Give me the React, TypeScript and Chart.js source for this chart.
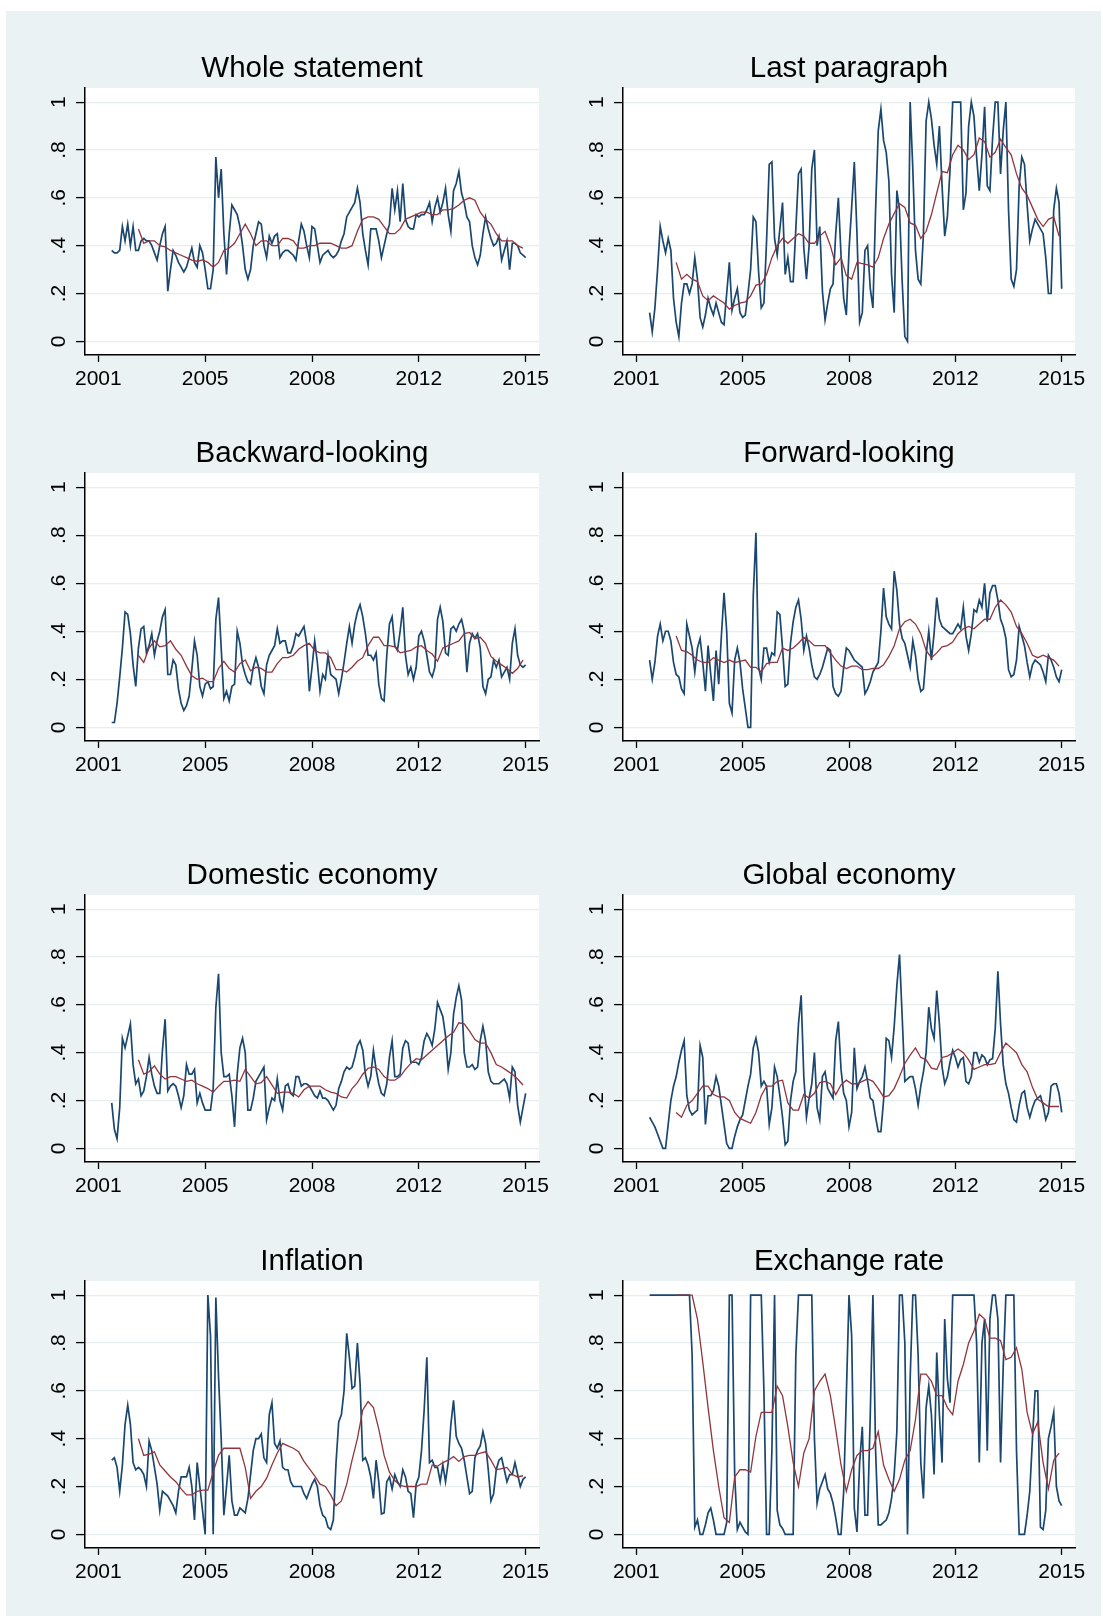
import React, { useEffect, useRef } from 'react';
import { Chart, registerables } from 'chart.js';

Chart.register(...registerables);

// ---------- axis definitions ----------
const yearLabels = ['2001', '2005', '2008', '2012', '2015'];
const yearTickPositions = [0, 40, 80, 120, 160];
const yTickValues = [0, 0.2, 0.4, 0.6, 0.8, 1];
const rawStart = 5; // observation index of first raw value
const maStart = 15; // observation index of first moving-average value
const maStep = 2;

// ---------- data (raw share, moving average) ----------
const wholeStatement = [
  .38, .37, .37, .38, .48, .42, .49, .40, .48, .38,
  .38, .42, .43, .42, .42, .40, .37, .34, .40, .45,
  .48, .21, .30, .38, .36, .33, .31, .29, .31, .35,
  .39, .33, .31, .40, .37, .30, .22, .22, .30, .77,
  .60, .72, .45, .28, .45, .57, .55, .53, .48, .40,
  .30, .26, .30, .40, .45, .50, .49, .40, .35, .44,
  .41, .44, .45, .35, .37, .38, .38, .37, .36, .34,
  .42, .49, .46, .40, .35, .48, .47, .40, .33, .36,
  .37, .38, .36, .35, .36, .38, .42, .45, .52, .54,
  .56, .58, .64, .58, .45, .38, .32, .47, .47, .47,
  .42, .35, .40, .45, .49, .64, .55, .63, .50, .66,
  .51, .48, .47, .47, .53, .52, .53, .53, .55, .58,
  .50, .56, .60, .54, .58, .64, .53, .46, .63, .66,
  .71, .62, .58, .52, .50, .40, .35, .32, .36, .45,
  .52, .47, .43, .40, .41, .44, .34, .38, .42, .30,
  .41, .41, .40, .37, .36, .35,
];
const wholeStatementMA = [
  .47, .41, .42, .42, .40, .395, .38, .37, .36, .35,
  .34, .335, .34, .33, .31, .33, .38, .39, .41, .45,
  .49, .45, .40, .42, .42, .40, .40, .43, .43, .42,
  .39, .39, .40, .40, .41, .41, .41, .40, .39, .39,
  .40, .46, .51, .52, .52, .51, .48, .45, .45, .47,
  .51, .52, .53, .54, .54, .53, .53, .55, .55, .555,
  .57, .59, .60, .59, .54, .51, .49, .45, .42, .42,
  .42, .40, .39,
];

const lastParagraph = [
  .12, .04, .14, .30, .48, .42, .37, .43, .38, .18,
  .08, .02, .16, .24, .24, .20, .24, .35, .26, .10,
  .06, .11, .18, .14, .11, .16, .12, .08, .07, .20,
  .33, .13, .18, .22, .12, .10, .11, .20, .30, .52,
  .50, .29, .14, .16, .42, .74, .75, .43, .36, .47,
  .58, .28, .35, .25, .25, .47, .70, .72, .39, .26,
  .40, .72, .80, .40, .48, .21, .09, .16, .22, .24,
  .45, .60, .36, .18, .11, .38, .56, .75, .45, .08,
  .12, .38, .40, .22, .14, .55, .88, .97, .84, .79,
  .67, .28, .12, .63, .55, .25, .02, .00, 1.0, .72,
  .38, .26, .24, .45, .92, 1.0, .93, .82, .74, .90,
  .65, .44, .52, .72, 1.0, 1.0, 1.0, 1.0, .55, .62,
  .90, 1.0, .94, .77, .63, .78, .98, .65, .63, .85,
  1.0, 1.0, .70, .88, 1.0, .55, .26, .23, .30, .65,
  .77, .74, .57, .42, .47, .51, .49, .47, .45, .35,
  .20, .20, .55, .64, .58, .22,
];
const lastParagraphMA = [
  .33, .26, .28, .26, .25, .19, .17, .19, .175, .16,
  .135, .15, .16, .165, .19, .235, .24, .28, .35, .40,
  .43, .41, .43, .45, .44, .41, .41, .44, .46, .40,
  .32, .35, .275, .26, .33, .325, .32, .31, .35, .43,
  .49, .535, .575, .56, .495, .485, .43, .46, .53, .62,
  .71, .705, .78, .82, .80, .76, .78, .85, .835, .77,
  .79, .845, .81, .78, .70, .64, .61, .56, .51, .48,
  .51, .52, .44,
];

const backwardLooking = [
  .02, .02, .10, .21, .33, .48, .47, .39, .26, .17,
  .33, .41, .42, .31, .34, .39, .30, .36, .40, .46,
  .49, .22, .22, .28, .26, .16, .10, .07, .09, .13,
  .24, .36, .30, .17, .13, .18, .19, .16, .17, .45,
  .54, .33, .12, .15, .11, .17, .18, .40, .35, .26,
  .22, .19, .18, .25, .29, .25, .17, .14, .26, .30,
  .32, .34, .41, .35, .36, .36, .31, .31, .34, .39,
  .38, .40, .42, .35, .15, .25, .36, .27, .15, .22,
  .20, .30, .22, .21, .20, .14, .20, .27, .35, .42,
  .35, .43, .48, .51, .46, .39, .30, .30, .28, .31,
  .18, .12, .11, .30, .43, .46, .34, .32, .40, .50,
  .30, .22, .25, .20, .25, .38, .40, .36, .30, .23,
  .21, .25, .45, .50, .44, .31, .30, .41, .42, .40,
  .43, .45, .40, .23, .35, .39, .37, .39, .33, .17,
  .14, .20, .21, .28, .25, .28, .21, .23, .25, .20,
  .35, .41, .30, .26, .25, .26,
];
const backwardLookingMA = [
  .30, .27, .33, .36, .335, .34, .36, .325, .30, .255,
  .215, .20, .205, .19, .19, .245, .275, .245, .23, .265,
  .28, .235, .25, .245, .23, .23, .265, .29, .29, .30,
  .325, .34, .35, .32, .31, .31, .29, .24, .24, .23,
  .25, .275, .29, .34, .375, .375, .34, .34, .335, .31,
  .315, .32, .335, .34, .32, .305, .275, .33, .34, .35,
  .36, .39, .395, .37, .375, .35, .295, .275, .26, .245,
  .225, .245, .28,
];

const forwardLooking = [
  .28, .20, .27, .38, .43, .36, .40, .40, .36, .27,
  .22, .21, .16, .14, .43, .38, .33, .23, .33, .37,
  .27, .15, .34, .22, .11, .32, .18, .38, .56, .40,
  .10, .06, .28, .33, .27, .16, .08, .00, .00, .55,
  .81, .25, .20, .33, .33, .27, .31, .30, .48, .47,
  .33, .17, .18, .35, .44, .50, .53, .45, .32, .38,
  .33, .26, .21, .20, .22, .25, .29, .33, .32, .17,
  .14, .13, .15, .25, .33, .32, .30, .28, .27, .26,
  .25, .14, .16, .19, .23, .25, .27, .40, .58, .46,
  .43, .41, .65, .57, .43, .37, .35, .30, .25, .36,
  .30, .20, .15, .16, .30, .40, .28, .39, .54, .45,
  .42, .41, .40, .39, .39, .41, .43, .41, .50, .38,
  .32, .39, .49, .48, .53, .50, .60, .44, .56, .59,
  .59, .53, .45, .42, .37, .24, .21, .22, .28, .42,
  .38, .34, .27, .21, .26, .28, .27, .26, .23, .19,
  .30, .28, .25, .21, .19, .24,
];
const forwardLookingMA = [
  .38, .32, .315, .30, .28, .27, .27, .29, .28, .27,
  .28, .27, .275, .28, .25, .25, .23, .265, .27, .27,
  .33, .32, .33, .35, .375, .36, .34, .34, .34, .31,
  .28, .255, .245, .255, .255, .24, .24, .245, .245, .26,
  .295, .34, .41, .44, .45, .43, .39, .32, .29, .31,
  .335, .34, .355, .39, .41, .42, .41, .43, .45, .45,
  .50, .53, .51, .48, .42, .39, .35, .30, .29, .30,
  .29, .28, .255,
];

const domesticEconomy = [
  .19, .08, .04, .17, .46, .42, .47, .52, .35, .27,
  .29, .22, .24, .30, .38, .31, .26, .23, .23, .41,
  .54, .24, .26, .27, .26, .22, .17, .22, .35, .31,
  .31, .33, .19, .23, .19, .16, .16, .16, .25, .59,
  .73, .40, .30, .30, .31, .22, .09, .31, .42, .46,
  .40, .16, .16, .21, .28, .30, .32, .34, .12, .17,
  .21, .20, .29, .20, .16, .26, .27, .23, .22, .30,
  .30, .26, .27, .27, .26, .24, .22, .21, .24, .21,
  .21, .20, .18, .16, .18, .25, .28, .32, .34, .33,
  .34, .38, .43, .45, .41, .31, .26, .30, .41, .33,
  .27, .23, .22, .27, .38, .45, .30, .30, .31, .42,
  .45, .44, .36, .36, .36, .35, .38, .45, .48, .46,
  .43, .50, .61, .58, .55, .47, .33, .40, .56, .63,
  .68, .62, .40, .34, .34, .35, .33, .34, .45, .51,
  .45, .32, .28, .27, .27, .27, .28, .29, .27, .21,
  .34, .32, .18, .11, .17, .23,
];
const domesticEconomyMA = [
  .37, .31, .32, .345, .31, .29, .30, .30, .29, .28,
  .285, .27, .26, .25, .235, .26, .28, .28, .285, .28,
  .33, .30, .27, .275, .30, .265, .23, .235, .235, .23,
  .215, .245, .26, .26, .26, .245, .235, .23, .215, .21,
  .25, .275, .31, .335, .34, .33, .30, .285, .285, .30,
  .33, .355, .375, .37, .39, .41, .43, .45, .47, .485,
  .525, .52, .49, .455, .44, .44, .40, .35, .34, .325,
  .31, .29, .265,
];

const globalEconomy = [
  .13, .11, .09, .06, .03, .00, .00, .10, .20, .26,
  .30, .36, .41, .45, .22, .16, .14, .15, .16, .43,
  .38, .10, .22, .22, .24, .30, .26, .18, .10, .02,
  .00, .00, .05, .09, .12, .14, .20, .26, .31, .42,
  .46, .40, .26, .28, .26, .10, .17, .34, .30, .22,
  .13, .015, .03, .20, .28, .32, .52, .64, .30, .13,
  .21, .27, .40, .17, .12, .30, .32, .25, .23, .21,
  .45, .53, .33, .23, .20, .09, .15, .42, .25, .28,
  .30, .34, .28, .21, .20, .13, .07, .07, .20, .46,
  .45, .38, .51, .68, .81, .55, .28, .29, .30, .30,
  .25, .18, .26, .32, .40, .59, .50, .46, .66, .52,
  .34, .27, .30, .36, .41, .38, .34, .37, .38, .28,
  .27, .30, .40, .40, .36, .39, .38, .35, .37, .375,
  .50, .74, .52, .35, .27, .23, .17, .12, .11, .18,
  .23, .24, .17, .13, .17, .20, .21, .22, .18, .12,
  .15, .26, .27, .27, .23, .15,
];
const globalEconomyMA = [
  .15, .13, .18, .20, .23, .26, .26, .225, .215, .215,
  .20, .15, .125, .115, .105, .15, .22, .26, .26, .28,
  .285, .19, .16, .16, .225, .21, .23, .275, .28, .27,
  .225, .265, .285, .27, .27, .28, .29, .28, .25, .215,
  .22, .25, .30, .355, .39, .42, .38, .37, .335, .33,
  .38, .385, .40, .415, .40, .37, .33, .34, .35, .35,
  .355, .40, .44, .42, .40, .35, .32, .255, .205, .19,
  .175, .175, .175,
];

const inflation = [
  .31, .32, .28, .18, .29, .46, .54, .46, .30, .27,
  .28, .27, .25, .20, .39, .35, .28, .21, .10, .18,
  .17, .16, .14, .12, .09, .18, .24, .24, .24, .28,
  .20, .06, .30, .20, .10, .00, 1.0, .83, .00, .99,
  .66, .40, .08, .20, .33, .14, .08, .08, .11, .10,
  .09, .15, .25, .35, .40, .40, .42, .32, .30, .50,
  .55, .38, .36, .39, .28, .27, .27, .22, .20, .20,
  .20, .20, .17, .15, .18, .21, .23, .20, .12, .08,
  .07, .03, .02, .06, .30, .47, .50, .60, .84, .74,
  .61, .62, .80, .63, .31, .32, .29, .24, .15, .31,
  .22, .085, .09, .22, .24, .19, .25, .22, .20, .27,
  .24, .18, .17, .07, .21, .24, .35, .52, .74, .30,
  .31, .28, .28, .22, .29, .22, .30, .46, .56, .41,
  .38, .36, .31, .24, .17, .18, .32, .35, .37, .43,
  .38, .27, .14, .17, .27, .31, .32, .27, .22, .25,
  .25, .30, .25, .20, .23, .24,
];
const inflationMA = [
  .40, .33, .335, .345, .29, .265, .24, .22, .19, .165,
  .165, .18, .185, .185, .26, .33, .36, .36, .36, .36,
  .28, .15, .18, .20, .235, .29, .34, .38, .37, .36,
  .345, .305, .275, .245, .21, .20, .165, .12, .14, .21,
  .31, .40, .52, .555, .53, .44, .33, .26, .225, .205,
  .20, .20, .20, .21, .21, .29, .285, .30, .31, .325,
  .305, .325, .33, .33, .34, .345, .31, .27, .275, .28,
  .25, .24, .245,
];

const exchangeRate = [
  1, 1, 1, 1, 1, 1, 1, 1, 1, 1,
  1, 1, 1, 1, 1, 1, .75, .03, .06, 0,
  0, .04, .09, .11, .06, 0, 0, 0, 0, .05,
  1, 1, .25, .02, .05, .03, .01, 0, 1, 1,
  1, 1, 1, .6, 0, 0, .35, 1, .1, .04,
  .025, 0, 0, 0, 0, .75, 1, 1, 1, 1,
  1, 1, .4, .13, .19, .22, .25, .19, .17, .13,
  .07, 0, 0, .18, .58, 1, .83, .11, .01, .3,
  .45, .08, .08, .5, 1, .35, .04, .04, .05, .06,
  .09, .15, .25, .43, 1, 1, .8, 0, .65, 1,
  1, .75, .3, .15, .53, .62, .5, .25, .76, .5,
  .3, .9, .65, .55, 1, 1, 1, 1, 1, 1,
  1, 1, 1, .8, .3, .8, .9, .35, .9, 1,
  1, .9, .3, .7, 1, 1, 1, 1, .35, 0,
  0, 0, .08, .18, .4, .6, .6, .03, .02, .1,
  .4, .45, .51, .2, .14, .12,
];
const exchangeRateMA = [
  1, 1, 1, 1, .90, .72, .53, .35, .20, .07,
  .05, .24, .27, .27, .26, .41, .51, .51, .51, .62,
  .58, .45, .30, .20, .34, .40, .60, .64, .67, .58,
  .44, .29, .18, .27, .33, .35, .35, .36, .43, .29,
  .23, .18, .23, .31, .35, .48, .67, .67, .64, .58,
  .58, .53, .50, .64, .71, .80, .85, .92, .90, .82,
  .82, .81, .73, .74, .78, .69, .51, .42, .47, .30,
  .19, .31, .34,
];

const panelTitles = [
  'Whole statement', 'Last paragraph',
  'Backward-looking', 'Forward-looking',
  'Domestic economy', 'Global economy',
  'Inflation', 'Exchange rate',
];
const panelRaw = [wholeStatement, lastParagraph, backwardLooking, forwardLooking, domesticEconomy, globalEconomy, inflation, exchangeRate];
const panelMA = [wholeStatementMA, lastParagraphMA, backwardLookingMA, forwardLookingMA, domesticEconomyMA, globalEconomyMA, inflationMA, exchangeRateMA];

// ---------- styling / layout ----------
const FONT = "'Liberation Sans', Arial, Helvetica, sans-serif";
const BLUE = '#1a476f';
const RED = '#90353b';
const GRID = '#e6eef0';
const PAGE_BG = '#eaf2f3';
const AXIS = '#000000';
const Y_AXIS_W = 85;
const X_AXIS_H = 45;
const PAD_R = 25;
const COL_LEFT = [0, 538];
const COL_WIDTH = [564, 562];
const ROW_TOP = [51, 436, 858, 1244];
const ROW_HEIGHT = [349, 350, 349, 349];

const fmtY = (v: number) => (v === 0 ? '0' : v === 1 ? '1' : String(v).replace(/^0/, ''));

const plotBackground = {
  id: 'plotBackground',
  beforeDraw(chart: any) {
    const { ctx, chartArea: a } = chart;
    ctx.save();
    ctx.fillStyle = '#ffffff';
    ctx.fillRect(a.left, a.top, a.right - a.left, a.bottom - a.top);
    ctx.restore();
  },
};

function Panel({ index }: { index: number }) {
  const ref = useRef<HTMLCanvasElement>(null);
  useEffect(() => {
    const raw = panelRaw[index];
    const ma = panelMA[index];
    const chart = new Chart(ref.current as HTMLCanvasElement, {
      type: 'line',
      data: {
        datasets: [
          {
            label: 'moving average',
            data: ma.map((v, i) => ({ x: maStart + i * maStep, y: v })),
            borderColor: RED,
            borderWidth: 1.3,
            pointRadius: 0,
            tension: 0,
            order: 0,
          },
          {
            label: 'share',
            data: raw.map((v, i) => ({ x: rawStart + i, y: v })),
            borderColor: BLUE,
            borderWidth: 1.7,
            pointRadius: 0,
            tension: 0,
            order: 1,
          },
        ],
      },
      options: {
        animation: false,
        responsive: true,
        maintainAspectRatio: false,
        devicePixelRatio: 1,
        events: [],
        layout: { padding: { left: 0, right: PAD_R, top: 0, bottom: 0 } },
        plugins: {
          legend: { display: false },
          tooltip: { enabled: false },
          title: {
            display: true,
            fullSize: false,
            text: panelTitles[index],
            color: '#000',
            font: { family: FONT, size: 29.5, weight: 'normal', lineHeight: '36px' } as any,
            padding: { top: 0, bottom: 1 },
          },
        },
        scales: {
          x: {
            type: 'linear',
            min: -5,
            max: 165,
            afterBuildTicks: (s: any) => {
              s.ticks = yearTickPositions.map((v) => ({ value: v }));
            },
            afterFit: (s: any) => {
              s.height = X_AXIS_H;
            },
            ticks: {
              callback: (v: any) => {
                const k = yearTickPositions.indexOf(Number(v));
                return k >= 0 ? yearLabels[k] : '';
              },
              color: '#000',
              font: { family: FONT, size: 21, lineHeight: '24px' } as any,
              padding: 5,
              maxRotation: 0,
              minRotation: 0,
              autoSkip: false,
            },
            grid: { drawOnChartArea: false, drawTicks: true, tickLength: 7, tickColor: AXIS, tickWidth: 1.3 },
            border: { display: true, color: AXIS, width: 1.5 },
          },
          y: {
            type: 'linear',
            min: -0.057,
            max: 1.059,
            afterBuildTicks: (s: any) => {
              s.ticks = yTickValues.map((v) => ({ value: v }));
            },
            afterFit: (s: any) => {
              s.width = Y_AXIS_W;
            },
            ticks: {
              callback: (v: any) => fmtY(Number(v)),
              color: '#000',
              font: { family: FONT, size: 21, lineHeight: '24px' } as any,
              padding: 8.5,
              minRotation: 90,
              maxRotation: 90,
              crossAlign: 'center',
            },
            grid: { color: GRID, lineWidth: 1.2, drawTicks: true, tickLength: 9, tickColor: AXIS, tickWidth: 1.3 },
            border: { display: true, color: AXIS, width: 1.5 },
          },
        },
      } as any,
      plugins: [plotBackground],
    });
    return () => chart.destroy();
  }, [index]);

  const col = index % 2;
  const row = Math.floor(index / 2);
  return (
    <div
      style={{
        position: 'absolute',
        left: COL_LEFT[col],
        top: ROW_TOP[row],
        width: COL_WIDTH[col],
        height: ROW_HEIGHT[row],
      }}
    >
      <canvas ref={ref} />
    </div>
  );
}

export default function App() {
  return (
    <div style={{ position: 'absolute', left: 0, top: 0, width: 1103, height: 1616, background: '#ffffff', overflow: 'hidden' }}>
      <div style={{ position: 'absolute', left: 6, top: 11, width: 1095, height: 1605, background: PAGE_BG }} />
      {panelTitles.map((_, i) => (
        <Panel key={i} index={i} />
      ))}
    </div>
  );
}
